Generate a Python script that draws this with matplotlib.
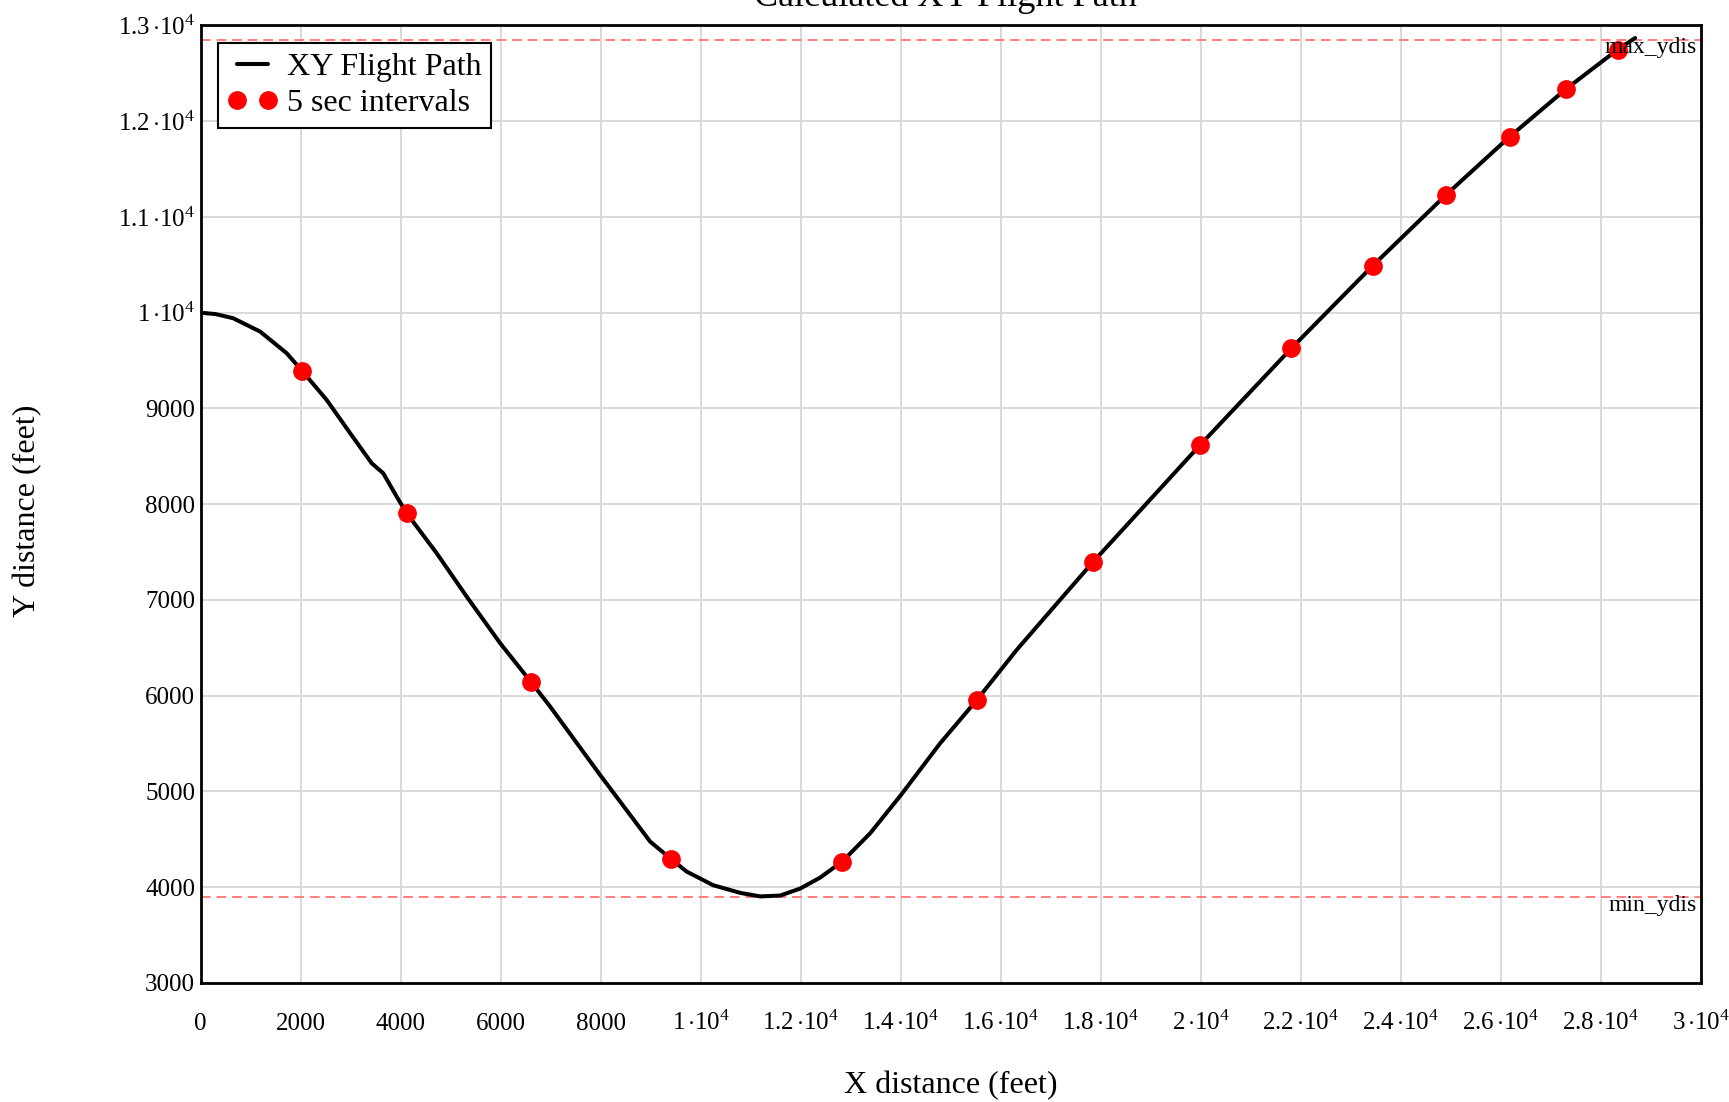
import numpy as np
import matplotlib
matplotlib.use("Agg")
import matplotlib.pyplot as plt
from matplotlib.ticker import FuncFormatter

plt.rcParams['font.family'] = ['Liberation Serif', 'DejaVu Serif']
plt.rcParams['mathtext.fontset'] = 'custom'
plt.rcParams['mathtext.rm'] = 'Liberation Serif'
plt.rcParams['mathtext.it'] = 'Liberation Serif:italic'

# flight path (feet)
path_x = [0, 300, 650, 1190, 1720, 2030, 2520, 2990, 3420, 3650, 3920, 4120,
          4720, 5320, 5990, 6600, 6990, 7990, 8990, 9410, 9720, 10250, 10790,
          11190, 11590, 11990, 12390, 12830, 13390, 13990, 14790, 15520,
          16320, 17190, 17840, 19980, 21810, 23440, 24900, 26180, 27300,
          28340, 28690]
path_y = [10000, 9985, 9942, 9802, 9576, 9391, 9088, 8740, 8427, 8323, 8078,
          7905, 7487, 7034, 6547, 6146, 5885, 5170, 4475, 4293, 4162, 4020,
          3940, 3903, 3912, 3985, 4100, 4267, 4563, 4952, 5503, 5953, 6478,
          7002, 7392, 8613, 9626, 10490, 11227, 11838, 12333, 12748, 12869]

# positions every 5 seconds
dots_x = [2030, 4120, 6600, 9410, 12830, 15520, 17840, 19980, 21810, 23440,
          24900, 26180, 27300, 28340]
dots_y = [9391, 7905, 6146, 4293, 4267, 5953, 7392, 8613, 9626, 10490,
          11227, 11838, 12333, 12748]

max_ydis = 12851
min_ydis = 3893


def sci_fmt(v, pos):
    if v >= 10000:
        m = v / 10000
        return r"$%g\,{\cdot}10^{4}$" % m
    return "%d" % v


fig = plt.figure(figsize=(17.29, 11.02), dpi=100)
ax = fig.add_axes([0.1161, 0.1081, 0.8675, 0.8688])

ax.plot(path_x, path_y, color='black', lw=2.9, label='XY Flight Path',
        solid_joinstyle='round', solid_capstyle='round', zorder=3)
ax.plot(dots_x, dots_y, 'o', color='red', ms=12.5, label='5 sec intervals',
        zorder=4)

for val, name in ((max_ydis, 'max_ydis'), (min_ydis, 'min_ydis')):
    ax.axhline(val, color='#ff7f7f', lw=1.4, ls=(0, (5, 3)), zorder=2)
    ax.annotate(name, xy=(1, val), xycoords=('axes fraction', 'data'),
                xytext=(-3, -9.8), textcoords='offset points',
                ha='right', va='baseline', fontsize=17, zorder=5)

ax.set_xlim(0, 30000)
ax.set_ylim(3000, 13000)
ax.set_xticks(np.arange(0, 30001, 2000))
ax.set_yticks(np.arange(3000, 13001, 1000))
ax.xaxis.set_major_formatter(FuncFormatter(sci_fmt))
ax.yaxis.set_major_formatter(FuncFormatter(sci_fmt))
ax.tick_params(length=0, labelsize=18)
ax.tick_params(axis='x', pad=34)
ax.tick_params(axis='y', pad=4)
for t in ax.xaxis.get_major_ticks():
    t.label1.set_va('baseline')
ax.grid(True, color='#d9d9d9', lw=1.4)
ax.set_axisbelow(True)
for s in ax.spines.values():
    s.set_linewidth(2)

ax.set_xlabel('X distance (feet)', fontsize=23, va='center')
ax.xaxis.set_label_coords(0.5, -0.1075)
ax.set_ylabel('Y distance (feet)', fontsize=23, va='center')
ax.yaxis.set_label_coords(-0.1155, 0.4934)
fig.text(0.547, 0.9948, 'Calculated XY Flight Path', ha='center',
         va='baseline', fontsize=26)

leg = ax.legend(loc='upper left', numpoints=2, fontsize=23, fancybox=False,
                framealpha=1, edgecolor='black', borderpad=0.3,
                handlelength=1.55, handletextpad=0.3, borderaxespad=0.55,
                labelspacing=0.22)
leg.get_frame().set_linewidth(1.5)

fig.savefig('out.png', dpi=100)
